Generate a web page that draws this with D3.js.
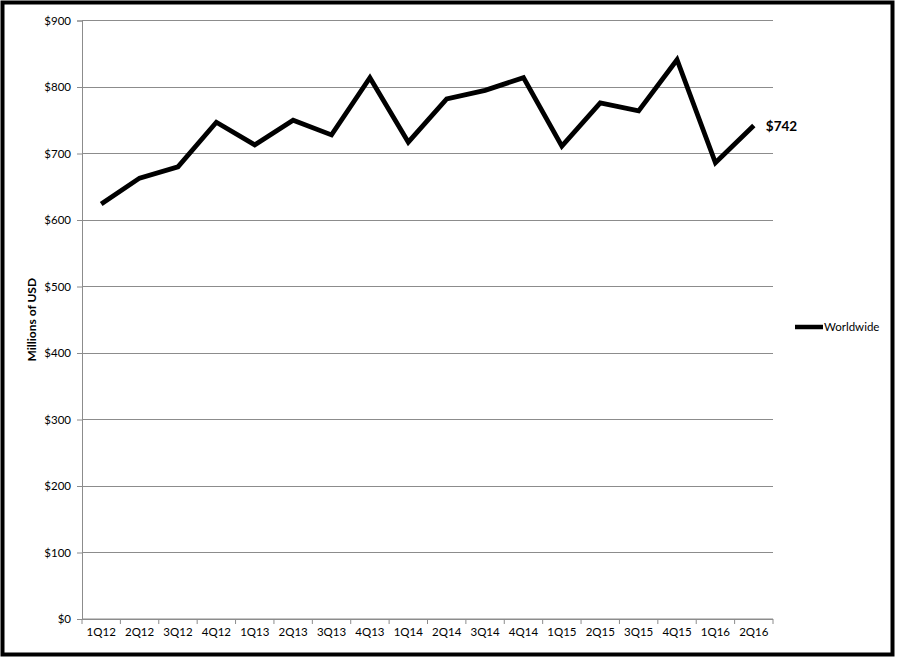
<!DOCTYPE html>
<html><head><meta charset="utf-8">
<script src="https://cdn.jsdelivr.net/npm/d3@7"></script>
<style>body{margin:0;background:#fff}svg{display:block}</style>
</head><body>
<script>
const categories = ["1Q12","2Q12","3Q12","4Q12","1Q13","2Q13","3Q13","4Q13","1Q14","2Q14","3Q14","4Q14","1Q15","2Q15","3Q15","4Q15","1Q16","2Q16"];
const worldwide = [624,663,680,747,713,750,728,814,717,782,795,814,711,776,764,841,686,742];
const yTicks = [0,100,200,300,400,500,600,700,800,900];
const seriesName = "Worldwide";
const yTitle = "Millions of USD";

const W = 897, H = 658;
const svg = d3.select("body").append("svg").attr("width", W).attr("height", H);
svg.append("rect").attr("x",2.5).attr("y",2.5).attr("width",890).attr("height",652)
  .attr("fill","#fff").attr("stroke","#000").attr("stroke-width",4);

const L = 82, R = 773, T = 20.5, B = 619;
const x = d3.scaleBand().domain(categories).range([L, R]);
const y = d3.scaleLinear().domain([0, 900]).range([B, T]);
const font = "Lato, 'Open Sans', sans-serif";
const grey = "#8c8c8c";

// gridlines
svg.append("g").selectAll("line").data(yTicks).join("line")
  .attr("x1", L).attr("x2", R).attr("y1", d => y(d)).attr("y2", d => y(d))
  .attr("stroke", grey).attr("stroke-width", 1).attr("shape-rendering","crispEdges");

// y axis
const ya = svg.append("g").attr("transform", `translate(${L},0)`)
  .call(d3.axisLeft(y).tickValues(yTicks).tickSize(5).tickPadding(6).tickFormat(d => "$" + d));
ya.select(".domain").attr("stroke", grey);
ya.selectAll(".tick line").attr("stroke", grey);
ya.selectAll("text").attr("font-family", font).attr("font-size", 11.5).attr("fill","#000");

// x axis
const xa = svg.append("g").attr("transform", `translate(0,${B})`)
  .call(d3.axisBottom(x).tickSize(0).tickPadding(9));
xa.select(".domain").attr("stroke", grey).attr("d", `M${L},0H${R}`);
xa.selectAll("text").attr("font-family", font).attr("font-size", 11.5).attr("fill","#000");
svg.append("g").selectAll("line").data(categories.concat(["_end"])).join("line")
  .attr("x1", (d,i) => L + i * x.step()).attr("x2", (d,i) => L + i * x.step())
  .attr("y1", B).attr("y2", B + 5).attr("stroke", grey);

// line
const line = d3.line().x((d,i) => x(categories[i]) + x.bandwidth()/2).y(d => y(d));
svg.append("path").datum(worldwide).attr("d", line).attr("fill","none")
  .attr("stroke","#000").attr("stroke-width",4.8).attr("stroke-linejoin","miter").attr("stroke-linecap","butt");

// end label
const last = worldwide.length - 1;
svg.append("text").attr("x", x(categories[last]) + x.bandwidth()/2 + 12).attr("y", y(worldwide[last]) + 5)
  .attr("font-family", font).attr("font-weight","bold").attr("font-size", 13.5).text("$" + worldwide[last]);

// y title
svg.append("text").attr("transform", `translate(36,${(T+B)/2}) rotate(-90)`).attr("text-anchor","middle")
  .attr("font-family", font).attr("font-weight","bold").attr("font-size", 12).text(yTitle);

// legend
svg.append("line").attr("x1",795).attr("x2",823).attr("y1",327).attr("y2",327).attr("stroke","#000").attr("stroke-width",4.5);
svg.append("text").attr("x",824).attr("y",331).attr("font-family", font).attr("font-size", 11.5).text(seriesName);
</script>
</body></html>
